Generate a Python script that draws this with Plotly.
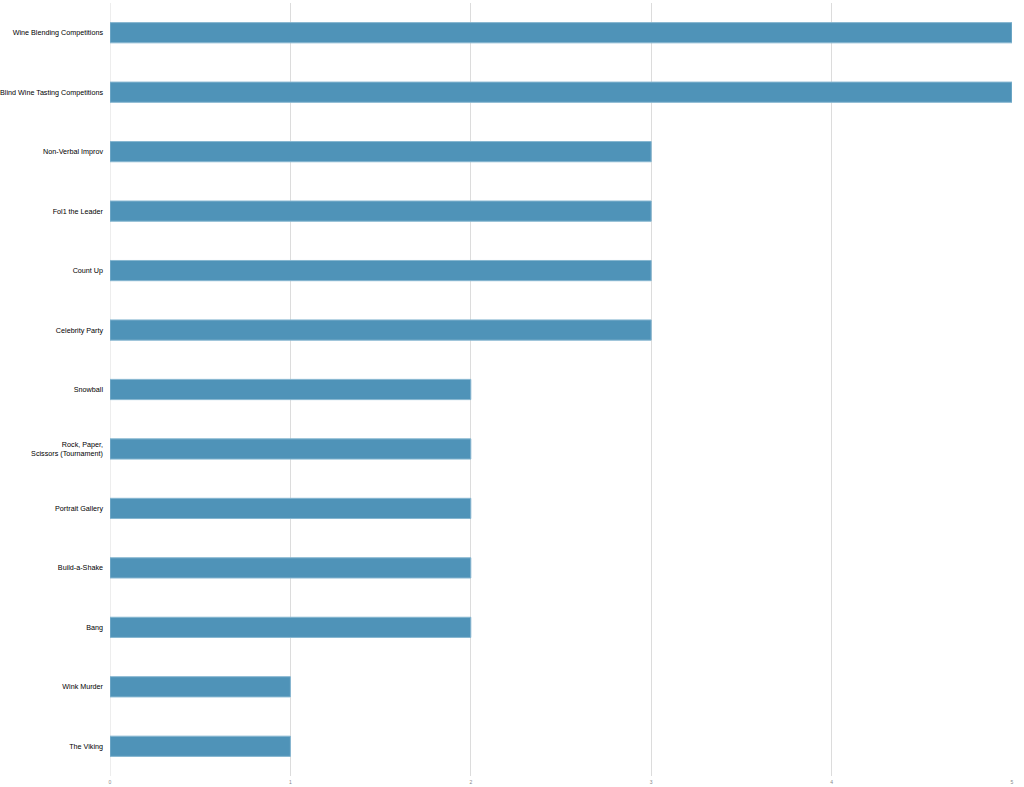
import plotly.graph_objects as go

categories = [
    "Wine Blending Competitions",
    "Blind Wine Tasting Competitions",
    "Non-Verbal Improv",
    "Fol1 the Leader",
    "Count Up",
    "Celebrity Party",
    "Snowball",
    "Rock, Paper,<br>Scissors (Tournament)",
    "Portrait Gallery",
    "Build-a-Shake",
    "Bang",
    "Wink Murder",
    "The Viking",
]
values = [5, 5, 3, 3, 3, 3, 2, 2, 2, 2, 2, 1, 1]
tick_vals = [0, 1, 2, 3, 4, 5]

fig = go.Figure(go.Bar(
    x=values,
    y=categories,
    orientation="h",
    marker=dict(color="#4f93b8", line=dict(color="#86b6d0", width=1)),
    width=0.34,
))

fig.update_layout(
    width=1024, height=787,
    margin=dict(l=110, r=12, t=3, b=11),
    plot_bgcolor="white", paper_bgcolor="white",
    showlegend=False,
    font=dict(family="Liberation Sans, Arial, sans-serif", color="#000"),
)
fig.update_xaxes(
    range=[0, 5], tickvals=tick_vals, showgrid=True, gridcolor="#dcdcdc", gridwidth=1,
    zeroline=False, showline=False, tickfont=dict(size=5, color="#888"),
    ticks="", ticklabelstandoff=2, automargin=False,
)
fig.update_yaxes(
    autorange="reversed", showgrid=False, zeroline=False, showline=False,
    tickfont=dict(size=7.2, color="#000"), ticks="", ticklabelstandoff=6,
    automargin=False,
)
fig.add_shape(type="line", xref="x", yref="paper", x0=0, x1=0, y0=0, y1=1,
              line=dict(color="#dcdcdc", width=1), layer="below")

fig.write_html("out.html")
